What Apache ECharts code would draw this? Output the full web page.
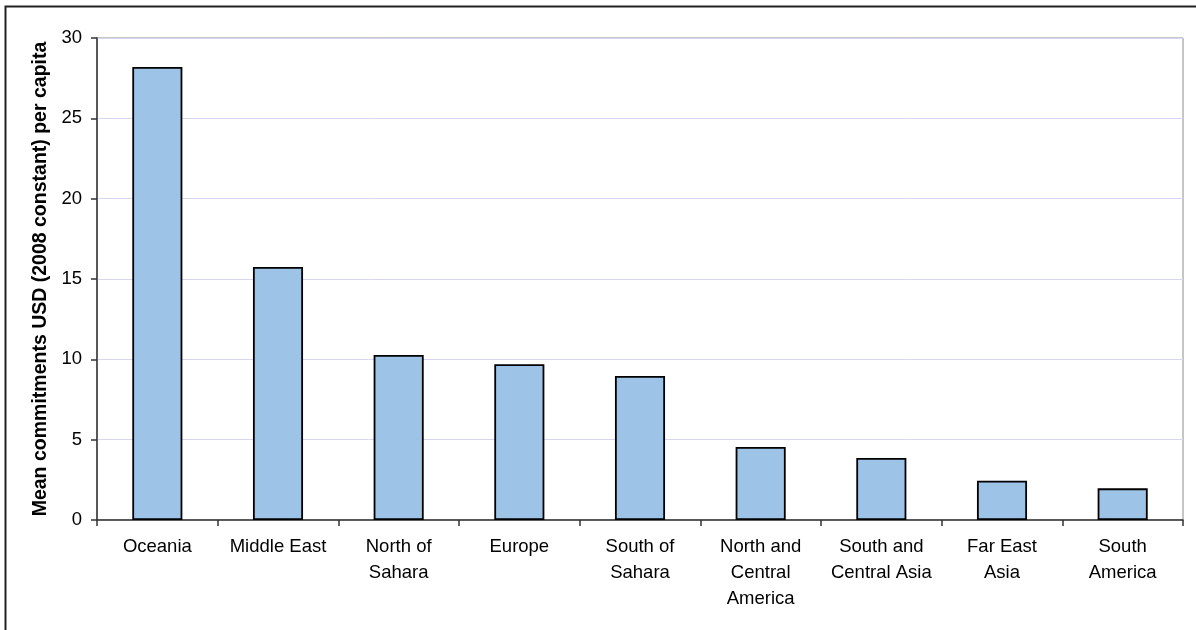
<!DOCTYPE html>
<html>
<head>
<meta charset="utf-8">
<script src="https://cdn.jsdelivr.net/npm/echarts@6/dist/echarts.min.js"></script>
<style>
html,body{margin:0;padding:0;background:#fff;}
#c{width:1196px;height:630px;}
</style>
</head>
<body>
<div id="c"></div>
<script>
const categories = ["Oceania", "Middle East", "North of\nSahara", "Europe", "South of\nSahara", "North and\nCentral\nAmerica", "South and\nCentral Asia", "Far East\nAsia", "South\nAmerica"];
const values = [28.2, 15.75, 10.27, 9.7, 8.96, 4.54, 3.86, 2.45, 1.97];
const yTicks = [0, 5, 10, 15, 20, 25, 30];
const yTitle = "Mean commitments USD (2008 constant) per capita";

const chart = echarts.init(document.getElementById('c'), null, {renderer: 'canvas'});
const font = "'Liberation Sans', Arial, sans-serif";
chart.setOption({
  animation: false,
  backgroundColor: '#fff',
  graphic: [{
    type: 'rect',
    shape: {x: 5.5, y: 6.5, width: 1300, height: 700},
    style: {fill: 'none', stroke: '#222', lineWidth: 2},
    silent: true
  }],
  grid: {left: 97, right: 13, top: 38, bottom: 110, show: true, borderColor: '#8c8c8c', borderWidth: 1, backgroundColor: 'transparent'},
  xAxis: {
    type: 'category',
    data: categories,
    axisLine: {lineStyle: {color: '#333', width: 1.5}},
    axisTick: {show: true, length: 6, alignWithLabel: false, lineStyle: {color: '#333', width: 1.5}},
    axisLabel: {color: '#000', fontFamily: font, fontSize: 18.5, lineHeight: 26, margin: 14, interval: 0},
    splitLine: {show: false}
  },
  yAxis: {
    type: 'value',
    min: yTicks[0], max: yTicks[yTicks.length - 1], interval: 5,
    name: yTitle,
    nameLocation: 'middle',
    nameGap: 45,
    nameRotate: 90,
    nameTextStyle: {color: '#000', fontFamily: font, fontSize: 19.5, fontWeight: 'bold'},
    axisLine: {show: true, lineStyle: {color: '#333', width: 1.5}},
    axisTick: {show: true, length: 6, lineStyle: {color: '#333', width: 1.5}},
    axisLabel: {color: '#000', fontFamily: font, fontSize: 18.5, margin: 15},
    splitLine: {show: true, lineStyle: {color: '#d6d6ee', width: 1}}
  },
  series: [{
    type: 'bar',
    data: values,
    barWidth: '41.5%',
    itemStyle: {color: '#9dc3e6', borderColor: '#000', borderWidth: 1.8}
  }]
});
</script>
</body>
</html>
